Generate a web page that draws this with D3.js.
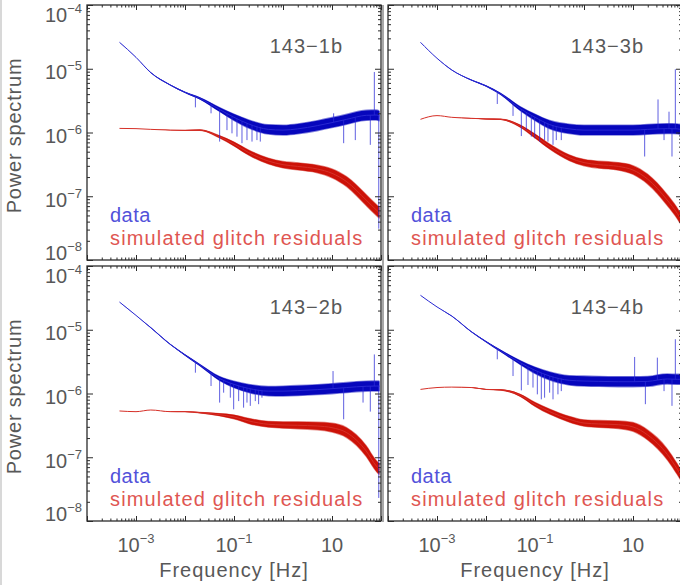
<!DOCTYPE html>
<html><head><meta charset="utf-8">
<script src="https://cdn.jsdelivr.net/npm/d3@7"></script>
<style>body{margin:0;background:#fff;overflow:hidden}text{font-family:"Liberation Sans",Arial,sans-serif}</style>
</head><body><svg id="c" width="680" height="585"></svg>
<script>
// ---------- data ----------
const panelLabels = ["143−1b", "143−3b", "143−2b", "143−4b"];
const legendLabels = ["data", "simulated glitch residuals"];
const xTickLabels = [[1e-3, "10", "−3"], [1e-1, "10", "−1"], [10, "10", ""]];
const yTickExps = ["−4", "−5", "−6", "−7", "−8"];
const yTickVals = [1e-4, 1e-5, 1e-6, 1e-7, 1e-8];
const xMajor = [1e-4, 1e-3, 1e-2, 1e-1, 1, 10, 100];

const freqGrid = [4.6e-4, 1e-3, 2e-3, 5e-3, 0.01, 0.02, 0.05, 0.1, 0.2, 0.5, 1, 2, 5, 10, 20, 50, 80, 93];
// spread of noisy band (dex, half width)
const dataSpread  = [0, 0, 0.005, 0.008, 0.012, 0.02, 0.04, 0.06, 0.075, 0.085, 0.09, 0.09, 0.09, 0.09, 0.09, 0.09, 0.09, 0.09];
const residSpread = [0, 0, 0, 0.004, 0.008, 0.012, 0.025, 0.04, 0.05, 0.055, 0.06, 0.065, 0.07, 0.08, 0.09, 0.1, 0.1, 0.1];

// 143-1b
const data1  = [2.60e-5, 1.51e-5, 8.69e-6, 5.56e-6, 4.27e-6, 3.44e-6, 2.31e-6, 1.73e-6, 1.36e-6, 1.12e-6, 1.09e-6, 1.14e-6, 1.28e-6, 1.43e-6, 1.61e-6, 1.86e-6, 1.88e-6, 1.82e-6];
const resid1 = [1.16e-6, 1.15e-6, 1.12e-6, 1.09e-6, 1.08e-6, 1.09e-6, 8.6e-7, 6.6e-7, 4.83e-7, 3.57e-7, 3.13e-7, 2.94e-7, 2.68e-7, 2.29e-7, 1.69e-7, 8.7e-8, 6.1e-8, 5.5e-8];
const spikeF1 = [0.0163, 0.034, 0.0509, 0.0719, 0.091, 0.115, 0.1455, 0.184, 0.233, 0.294, 0.344, 10.8, 17.3, 29.9, 60.5, 73.1, 90];
const spikeP1 = [2.48e-6, 2.0e-6, 7.2e-7, 1.09e-6, 9.7e-7, 8.6e-7, 6.8e-7, 7.6e-7, 7.2e-7, 7.6e-7, 7.2e-7, 2.0e-6, 6.8e-7, 7.6e-7, 6.4e-7, 8.9e-6, 3.1e-8];
// 143-3b
const data2  = [2.60e-5, 1.46e-5, 9.57e-6, 6.67e-6, 5.37e-6, 4.02e-6, 2.37e-6, 1.73e-6, 1.33e-6, 1.14e-6, 1.09e-6, 1.09e-6, 1.09e-6, 1.09e-6, 1.12e-6, 1.15e-6, 1.14e-6, 1.12e-6];
const resid2 = [1.61e-6, 1.84e-6, 1.73e-6, 1.67e-6, 1.63e-6, 1.61e-6, 1.26e-6, 8.8e-7, 6.0e-7, 4.03e-7, 3.37e-7, 3.13e-7, 2.94e-7, 2.58e-7, 1.85e-7, 8.7e-8, 5.4e-8, 4.5e-8];
const spikeF2 = [0.017, 0.0356, 0.0526, 0.0665, 0.0841, 0.0984, 0.1245, 0.157, 0.184, 0.233, 0.272, 0.344, 17.3, 32.4, 43, 54.3, 62.5, 73.1];
const spikeP2 = [2.8e-6, 1.82e-6, 8.8e-7, 1.09e-6, 8.6e-7, 8.1e-7, 7.2e-7, 7.6e-7, 7.2e-7, 6.4e-7, 7.6e-7, 7.6e-7, 4.2e-7, 3.3e-6, 7.6e-7, 2.12e-6, 4.2e-7, 9.8e-6];
// 143-2b
const data3  = [2.72e-5, 1.68e-5, 1.08e-5, 5.9e-6, 4.02e-6, 2.8e-6, 1.73e-6, 1.39e-6, 1.2e-6, 1.09e-6, 1.09e-6, 1.11e-6, 1.15e-6, 1.19e-6, 1.24e-6, 1.30e-6, 1.31e-6, 1.31e-6];
const resid3 = [5.32e-7, 5.19e-7, 5.51e-7, 5.19e-7, 5.19e-7, 5.01e-7, 4.66e-7, 4.29e-7, 3.71e-7, 3.29e-7, 3.21e-7, 3.17e-7, 3.09e-7, 2.91e-7, 2.43e-7, 1.25e-7, 7.3e-8, 6.5e-8];
const spikeF3 = [0.0163, 0.034, 0.0509, 0.0615, 0.0841, 0.0984, 0.1245, 0.157, 0.184, 0.215, 0.272, 0.318, 0.372, 10.5, 17.3, 43, 60.5, 73.1, 90];
const spikeP3 = [2.12e-6, 1.31e-6, 7.2e-7, 1.03e-6, 8.6e-7, 5.65e-7, 7.6e-7, 6.0e-7, 7.2e-7, 6.4e-7, 7.6e-7, 6.8e-7, 8.6e-7, 2.25e-6, 3.94e-7, 7.2e-7, 5.2e-7, 4.1e-6, 2.3e-8];
// 143-4b
const data4  = [3.47e-5, 2.28e-5, 1.64e-5, 9.33e-6, 6.5e-6, 4.65e-6, 3.05e-6, 2.31e-6, 1.88e-6, 1.61e-6, 1.57e-6, 1.55e-6, 1.53e-6, 1.53e-6, 1.55e-6, 1.69e-6, 1.67e-6, 1.67e-6];
const resid4 = [1.16e-6, 1.24e-6, 1.26e-6, 1.24e-6, 1.16e-6, 1.14e-6, 9.35e-7, 6.76e-7, 5.19e-7, 3.94e-7, 3.44e-7, 3.33e-7, 3.24e-7, 2.99e-7, 2.23e-7, 1.11e-7, 6.5e-8, 5.4e-8];
const spikeF4 = [0.017, 0.0356, 0.0526, 0.0719, 0.091, 0.1116, 0.1346, 0.157, 0.199, 0.233, 0.294, 0.344, 10.8, 17.9, 31.4, 43, 62.5, 73.1];
const spikeP4 = [3.44e-6, 1.88e-6, 1.12e-6, 1.36e-6, 1.24e-6, 9.7e-7, 8.1e-7, 8.6e-7, 1.03e-6, 8.1e-7, 9.7e-7, 1.09e-6, 3.74e-6, 6.8e-7, 3.65e-6, 1.09e-6, 6.4e-7, 7.1e-6];

// ---------- layout ----------
const PW = 294, PH = 255;
const panels = [
  {label: panelLabels[0], data: data1, resid: resid1, sf: spikeF1, sp: spikeP1, x0: 87,  y0: 5,   left: true,  bottom: false},
  {label: panelLabels[1], data: data2, resid: resid2, sf: spikeF2, sp: spikeP2, x0: 388, y0: 5,   left: false, bottom: false},
  {label: panelLabels[2], data: data3, resid: resid3, sf: spikeF3, sp: spikeP3, x0: 87,  y0: 266, left: true,  bottom: true},
  {label: panelLabels[3], data: data4, resid: resid4, sf: spikeF4, sp: spikeP4, x0: 388, y0: 266, left: false, bottom: true}
];
const BLUE = "#0606bc", BLUE_LINE = "#2828d2", RED = "#cc1208", RED_LINE = "#d63028";
const AX = "#2b2b2b", TXT = "#585858";

const svg = d3.select("#c");
svg.append("rect").attr("width", 680).attr("height", 585).attr("fill", "#fff");
svg.append("line").attr("x1", 1).attr("x2", 1).attr("y1", 0).attr("y2", 585).attr("stroke", "#d8d8d8").attr("stroke-width", 2);

const xMinor = [], yMinor = [];
for (let d = -4; d < 2; d++) for (let k = 2; k <= 9; k++) xMinor.push(k * Math.pow(10, d));
for (let d = -8; d < -4; d++) for (let k = 2; k <= 9; k++) yMinor.push(k * Math.pow(10, d));

function interpLog(f, grid, vals) {
  const lf = Math.log10(f);
  for (let i = 0; i < grid.length - 1; i++) {
    const a = Math.log10(grid[i]), b = Math.log10(grid[i + 1]);
    if (lf >= a && lf <= b) {
      const t = (lf - a) / (b - a);
      return Math.pow(10, Math.log10(vals[i]) * (1 - t) + Math.log10(vals[i + 1]) * t);
    }
  }
  return vals[vals.length - 1];
}

panels.forEach((p, pi) => {
  const x = d3.scaleLog().domain([1e-4, 100]).range([p.x0, p.x0 + PW]);
  const y = d3.scaleLog().domain([1e-8, 1e-4]).range([p.y0 + PH, p.y0]);
  const g = svg.append("g");
  const clipId = "clip" + pi;
  svg.append("clipPath").attr("id", clipId).append("rect")
    .attr("x", p.x0).attr("y", p.y0).attr("width", PW).attr("height", PH);
  const plot = g.append("g").attr("clip-path", `url(#${clipId})`);

  function drawSeries(vals, spread, fill, lineCol) {
    const pts = freqGrid.map((f, i) => ({f, v: vals[i], s: spread[i]}));
    const band = k => d3.area().curve(d3.curveMonotoneX)
      .x(d => x(d.f)).y0(d => y(d.v / Math.pow(10, d.s * k))).y1(d => y(d.v * Math.pow(10, d.s * k)));
    plot.append("path").attr("d", band(1)(pts)).attr("fill", fill).attr("opacity", 0.5);
    plot.append("path").attr("d", band(0.85)(pts)).attr("fill", fill);
    const line = d3.line().curve(d3.curveMonotoneX).x(d => x(d.f)).y(d => y(d.v));
    plot.append("path").attr("d", line(pts)).attr("fill", "none").attr("stroke", lineCol).attr("stroke-width", 1);
  }
  drawSeries(p.resid, residSpread, RED, RED_LINE);
  drawSeries(p.data, dataSpread, BLUE, BLUE_LINE);
  // spikes
  p.sf.forEach((f, i) => {
    const base = interpLog(f, freqGrid, p.data);
    plot.append("line").attr("x1", x(f)).attr("x2", x(f))
      .attr("y1", y(base)).attr("y2", y(p.sp[i]))
      .attr("stroke", "#2a2ad6").attr("stroke-opacity", 0.75).attr("stroke-width", 1);
  });

  // axes (ticks inward)
  const mk = (axis, vals, size) => axis.tickValues(vals).tickSize(size).tickFormat("");
  const addAxis = (gen, tr) => {
    const a = g.append("g").attr("transform", tr).call(gen);
    a.select(".domain").remove();
    a.selectAll("line").attr("stroke", AX).attr("stroke-width", 1);
  };
  addAxis(mk(d3.axisBottom(x), xMajor, -5), `translate(0,${p.y0 + PH})`);
  addAxis(mk(d3.axisBottom(x), xMinor, -2.5), `translate(0,${p.y0 + PH})`);
  addAxis(mk(d3.axisTop(x), xMajor, -5), `translate(0,${p.y0})`);
  addAxis(mk(d3.axisTop(x), xMinor, -2.5), `translate(0,${p.y0})`);
  addAxis(mk(d3.axisLeft(y), yTickVals, -6), `translate(${p.x0},0)`);
  addAxis(mk(d3.axisLeft(y), yMinor, -3), `translate(${p.x0},0)`);
  addAxis(mk(d3.axisRight(y), yTickVals, -6), `translate(${p.x0 + PW},0)`);
  addAxis(mk(d3.axisRight(y), yMinor, -3), `translate(${p.x0 + PW},0)`);
  g.append("rect").attr("x", p.x0).attr("y", p.y0).attr("width", PW).attr("height", PH)
    .attr("fill", "none").attr("stroke", AX).attr("stroke-width", 1.3);

  // y tick labels
  if (p.left) {
    yTickVals.forEach((v, i) => {
      let dy = 10.5;
      if (i === 0) dy = 16.5;
      if (i === yTickVals.length - 1) dy = 0;
      const t = g.append("text").attr("x", p.x0 - 5).attr("y", y(v) + dy)
        .attr("text-anchor", "end").attr("fill", TXT).attr("font-size", 20);
      t.append("tspan").text("10");
      t.append("tspan").attr("dy", -9).attr("font-size", 13).text(yTickExps[i]);
    });
    g.append("text").attr("transform", `translate(21,${p.y0 + PH / 2 + 3}) rotate(-90)`)
      .attr("text-anchor", "middle").attr("fill", TXT).attr("font-size", 20)
      .attr("letter-spacing", 0.8).text("Power spectrum");
  }
  // x tick labels
  if (p.bottom) {
    xTickLabels.forEach(([v, base, ex]) => {
      const t = g.append("text").attr("x", x(v)).attr("y", 552)
        .attr("text-anchor", "middle").attr("fill", TXT).attr("font-size", 20);
      t.append("tspan").text(base);
      if (ex) t.append("tspan").attr("dy", -9).attr("font-size", 13).text(ex);
    });
    g.append("text").attr("x", p.x0 + PW / 2).attr("y", 577).attr("text-anchor", "middle")
      .attr("fill", TXT).attr("font-size", 20).attr("letter-spacing", 1).text("Frequency [Hz]");
  }
  // panel label
  g.append("text").attr("x", p.x0 + 256).attr("y", p.y0 + 48).attr("text-anchor", "end")
    .attr("fill", TXT).attr("font-size", 20).attr("letter-spacing", 1).text(p.label);
  // legend
  g.append("text").attr("x", p.x0 + 23).attr("y", p.y0 + 217).attr("fill", "#5252da")
    .attr("font-size", 20).attr("letter-spacing", 0.5).text(legendLabels[0]);
  g.append("text").attr("x", p.x0 + 23).attr("y", p.y0 + 240).attr("fill", "#e05652")
    .attr("font-size", 20).attr("letter-spacing", 1.15).text(legendLabels[1]);
});
svg.append("line").attr("x1", 383).attr("x2", 383).attr("y1", 5).attr("y2", 522)
  .attr("stroke", "#a8a8a8").attr("stroke-width", 2);
</script>
</body></html>
